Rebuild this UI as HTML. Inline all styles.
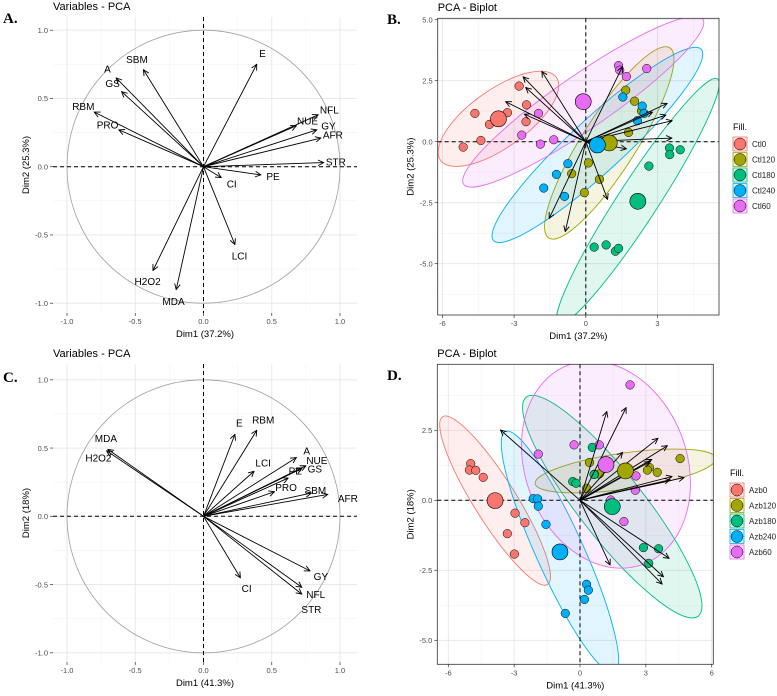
<!DOCTYPE html>
<html><head><meta charset="utf-8"><style>
body{margin:0;background:#fff;width:777px;height:691px;overflow:hidden;font-family:"Liberation Sans",sans-serif}
svg text{font-family:"Liberation Sans",sans-serif}
</style></head><body>
<svg id="s" width="777" height="691"></svg>
<script>
// ---------- Data ----------
const varsA = ["E","SBM","A","GS","RBM","PRO","NFL","NUE","GY","AFR","STR","PE","CI","LCI","H2O2","MDA"];
const dim1A = [0.39,-0.44,-0.64,-0.60,-0.80,-0.62,0.84,0.68,0.83,0.86,0.88,0.42,0.13,0.23,-0.37,-0.20];
const dim2A = [0.75,0.71,0.65,0.55,0.40,0.27,0.38,0.30,0.27,0.21,0.03,-0.06,-0.08,-0.57,-0.76,-0.90];
const varsC = ["MDA","H2O2","E","RBM","LCI","A","NUE","GS","PE","PRO","SBM","AFR","GY","NFL","STR","CI"];
const dim1C = [-0.70,-0.71,0.23,0.39,0.37,0.68,0.75,0.72,0.62,0.52,0.79,0.91,0.78,0.72,0.72,0.27];
const dim2C = [0.49,0.48,0.60,0.63,0.33,0.43,0.37,0.35,0.28,0.18,0.17,0.16,-0.40,-0.52,-0.57,-0.45];

const groupsB = ["Ctl0","Ctl120","Ctl180","Ctl240","Ctl60"];
const ptsBx = [
 [-5.13,-4.39,-4.64,-4.03,-3.28,-2.79,-2.48,-2.50],
 [1.67,2.04,2.33,1.79,0.11,-0.59,0.57,-0.06],
 [3.50,3.51,3.95,2.64,0.35,0.85,1.24,1.37],
 [1.55,2.36,2.44,2.16,-0.75,-1.23,-1.76,-0.89],
 [-2.68,-1.90,-1.34,-1.98,1.37,1.42,1.70,2.55]];
const ptsBy = [
 [-0.22,0.05,1.16,0.71,1.19,2.28,1.51,0.82],
 [2.11,1.66,1.26,0.38,-0.87,-1.31,-1.54,-2.09],
 [-0.26,-0.53,-0.33,-1.00,-4.32,-4.23,-4.49,-4.37],
 [1.83,1.46,1.16,0.86,-0.90,-1.34,-1.90,-2.24],
 [0.27,-0.10,0.08,1.16,3.12,2.93,2.67,3.00]];
const arrBx = [-2.62,-1.84,-2.51,-3.35,-2.57,1.53,3.40,3.35,3.61,3.60,1.70,0.91,-1.53,-0.86,2.79,0.55];
const arrBy = [2.66,2.88,2.22,1.64,1.13,3.07,1.57,1.09,0.86,0.15,-0.29,-2.36,-3.14,-3.68,1.21,-0.30];

const groupsD = ["Azb0","Azb120","Azb180","Azb240","Azb60"];
const ptsDx = [
 [-4.98,-5.04,-4.75,-4.41,-2.96,-2.51,-3.31,-2.99],
 [0.43,0.88,0.65,3.16,3.07,3.52,4.56,0.30],
 [0.56,-0.33,-0.18,0.64,2.89,3.58,3.13],
 [-2.13,-1.93,-1.90,-1.55,0.30,0.38,0.20,-0.67],
 [2.28,-0.27,0.88,-1.90,1.40,2.00,2.55,2.52]];
const ptsDy = [
 [1.31,1.08,1.07,0.82,-0.46,-0.80,-1.19,-1.92],
 [1.35,0.94,0.93,1.17,1.08,1.00,1.49,0.43],
 [1.89,0.67,0.61,0.92,-1.69,-1.73,-2.25],
 [0.06,0.05,-0.21,-0.86,-3.00,-3.21,-3.54,-4.04],
 [4.12,1.98,1.98,1.65,0.01,-0.76,0.87,0.36]];
const arrDx = [-3.62,1.22,2.10,3.55,3.98,1.94,3.27,4.19,4.74,4.06,3.80,3.74,1.37,3.19,4.10];
const arrDy = [2.51,3.17,3.31,2.21,1.95,1.71,1.46,0.85,0.81,-2.07,-2.73,-2.99,-2.31,1.38,0.73];

const colors = ["#F8766D","#A3A500","#00BF7D","#00B0F6","#E76BF3"];
// ---------- helpers ----------
const svg=document.getElementById('s');const NS="http://www.w3.org/2000/svg";
function el(t,a,p){const e=document.createElementNS(NS,t);for(const k in a)e.setAttribute(k,a[k]);(p||svg).appendChild(e);return e;}
function txt(x,y,s,a,p){const e=el('text',Object.assign({x:x,y:y},a),p);e.textContent=s;return e;}
const defs=el('defs',{});
const mk=el('marker',{id:'ah',viewBox:'0 0 10 10',refX:'9',refY:'5',markerWidth:'7',markerHeight:'7',orient:'auto-start-reverse',markerUnits:'userSpaceOnUse'},defs);
el('path',{d:'M1,1 L9,5 L1,9',fill:'none',stroke:'#000','stroke-width':'1.3'},mk);
let clipN=0;

function frame(o){
 const g=el('g',{});
 
 
 const X=v=>o.x0+v*o.sx, Y=v=>o.y0-v*o.sy;
 if(o.border) el('rect',{x:o.L,y:o.T,width:o.R-o.L,height:o.B-o.T,fill:'#fff'},g);
 for(const v of o.minorX){el('line',{x1:X(v),x2:X(v),y1:o.T,y2:o.B,stroke:'#f2f2f2','stroke-width':0.6},g);}
 for(const v of o.minorY){el('line',{y1:Y(v),y2:Y(v),x1:o.L,x2:o.R,stroke:'#f2f2f2','stroke-width':0.6},g);}
 for(const v of o.xt){el('line',{x1:X(v),x2:X(v),y1:o.T,y2:o.B,stroke:'#e6e6e6','stroke-width':0.9},g);}
 for(const v of o.yt){el('line',{y1:Y(v),y2:Y(v),x1:o.L,x2:o.R,stroke:'#e6e6e6','stroke-width':0.9},g);}
 const ax=el('g',{},g);
 o.xt.forEach((v,i)=>{el('line',{x1:X(v),x2:X(v),y1:o.B,y2:o.B+3,stroke:'#333','stroke-width':0.7},ax);
  txt(X(v),o.B+11,o.xl[i],{'font-size':7.5,fill:'#4d4d4d','text-anchor':'middle'},ax);});
 const ay=el('g',{},g);
 o.yt.forEach((v,i)=>{el('line',{y1:Y(v),y2:Y(v),x1:o.L-3,x2:o.L,stroke:'#333','stroke-width':0.7},ay);
  txt(o.L-5,Y(v)+2.7,o.yl[i],{'font-size':7.5,fill:'#4d4d4d','text-anchor':'end'},ay);});
 const xtl=txt((o.L+o.R)/2,o.B+24,o.xtitle,{'font-size':9.5,fill:'#000','text-anchor':'middle'},g);
 
 const ytl=txt(0,0,o.ytitle,{'font-size':9.5,fill:'#000','text-anchor':'middle',transform:`translate(${o.L-24},${(o.T+o.B)/2}) rotate(-90)`},g);
 
 const tt=txt(o.L,o.titleY,o.title,{'font-size':11,fill:'#000'},g);
 
 const lt=txt(o.letterX,o.letterY,o.letter,{style:'font-family:"Liberation Serif",serif;font-size:15px;font-weight:bold'},g);
 
 const id='clip'+(clipN++);const cp=el('clipPath',{id:id},defs);el('rect',{x:o.L,y:o.T,width:o.R-o.L,height:o.B-o.T},cp);
 const inner=el('g',{'clip-path':`url(#${id})`},g);
 return {g,inner,X,Y};
}
function finishBorder(f,o){ if(o.border) el('rect',{x:o.L,y:o.T,width:o.R-o.L,height:o.B-o.T,fill:'none',stroke:'#333','stroke-width':0.8},f.g); }
function refLines(f,o){
 el('line',{x1:o.L,x2:o.R,y1:f.Y(0),y2:f.Y(0),stroke:'#000','stroke-width':1,'stroke-dasharray':'4,3'},f.g);
 el('line',{y1:o.T,y2:o.B,x1:f.X(0),x2:f.X(0),stroke:'#000','stroke-width':1,'stroke-dasharray':'4,3'},f.g);
}
function varPanel(o,names,d1,d2){
 const f=frame(o);
 el('circle',{cx:f.X(0),cy:f.Y(0),r:o.sx,fill:'none',stroke:'#a0a0a0','stroke-width':0.8},f.g);
 refLines(f,o);
 names.forEach((n,i)=>{
  const a=el('line',{x1:f.X(0),y1:f.Y(0),x2:f.X(d1[i]),y2:f.Y(d2[i]),stroke:'#000','stroke-width':0.9,'marker-end':'url(#ah)'},f.g);
  
  const len=Math.hypot(d1[i],d2[i]);const k=(len+0.09)/len;
  const sh=(o.shift&&o.shift[n])||[0,0];
  const t=txt(f.X(d1[i]*k)+sh[0],f.Y(d2[i]*k)+3.5+sh[1],n,{'font-size':10,fill:'#000','text-anchor':'middle'},f.g);
  
 });
}
function ellipse(f,xs,ys,col,g){
 const n=xs.length;const mx=xs.reduce((a,b)=>a+b)/n,my=ys.reduce((a,b)=>a+b)/n;
 let sxx=0,syy=0,sxy=0;for(let i=0;i<n;i++){const dx=f.X(xs[i])-f.X(mx),dy=f.Y(ys[i])-f.Y(my);sxx+=dx*dx;syy+=dy*dy;sxy+=dx*dy;}
 sxx/=n-1;syy/=n-1;sxy/=n-1;
 const tr=sxx+syy,det=sxx*syy-sxy*sxy,l1=tr/2+Math.sqrt(tr*tr/4-det),l2=tr/2-Math.sqrt(tr*tr/4-det);
 const ang=Math.atan2(l1-sxx,sxy)*180/Math.PI;const k=2.45;
 el('ellipse',{cx:0,cy:0,rx:k*Math.sqrt(l1),ry:k*Math.sqrt(Math.max(l2,0.5)),fill:col,'fill-opacity':0.12,stroke:col,'stroke-width':0.9,
  transform:`translate(${f.X(mx)},${f.Y(my)}) rotate(${isNaN(ang)?0:ang})`},g);
 return [mx,my];
}
function biplot(o,groups,px,py,ax,ay,legY){
 const f=frame(o);
 const cents=[];
 groups.forEach((gname,gi)=>{const g=el('g',{},f.inner);
  cents.push(ellipse(f,px[gi],py[gi],colors[gi],g));});
 refLines(f,o);
 groups.forEach((gname,gi)=>{const g=el('g',{},f.g);
  px[gi].forEach((x,i)=>{const c=el('circle',{cx:f.X(x),cy:f.Y(py[gi][i]),r:4.3,fill:colors[gi],stroke:'#000','stroke-width':0.5},g);
   });});
 ax.forEach((x,i)=>{const a=el('line',{x1:f.X(0),y1:f.Y(0),x2:f.X(x),y2:f.Y(ay[i]),stroke:'#000','stroke-width':0.9,'marker-end':'url(#ah)'},f.g);
  });
 groups.forEach((gname,gi)=>{const c=el('circle',{cx:f.X(cents[gi][0]),cy:f.Y(cents[gi][1]),r:8,fill:colors[gi],stroke:'#000','stroke-width':0.6},f.g);
  });
 finishBorder(f,o);
 const lg=el('g',{});
 txt(o.legX,legY,'Fill.',{'font-size':9,fill:'#000'},lg);
 groups.forEach((gname,gi)=>{const y=legY+7+gi*15.5;const e=el('g',{},lg);
  el('rect',{x:o.legX,y:y,width:14,height:14,fill:colors[gi],'fill-opacity':0.15,stroke:colors[gi],'stroke-width':0.8},e);
  el('circle',{cx:o.legX+7,cy:y+7,r:6,fill:colors[gi],stroke:'#000','stroke-width':0.5},e);
  txt(o.legX+19,y+10,gname,{'font-size':8,fill:'#222'},e);});
}
const tA=[-1,-0.5,0,0.5,1],tAl=["-1.0","-0.5","0.0","0.5","1.0"],mA=[-0.75,-0.25,0.25,0.75];
varPanel({name:'panel-a-variables-pca',L:53,R:357,T:17,B:313,x0:203.5,y0:166.7,sx:136.5,sy:136.5,xt:tA,yt:tA,xl:tAl,yl:tAl,minorX:mA,minorY:mA,
 xtitle:'Dim1 (37.2%)',ytitle:'Dim2 (25.3%)',title:'Variables - PCA',titleY:10,letter:'A.',letterX:3,letterY:23},varsA,dim1A,dim2A);
varPanel({name:'panel-c-variables-pca',L:53,R:357,T:364,B:662,x0:203.5,y0:516.3,sx:136.5,sy:136.5,xt:tA,yt:tA,xl:tAl,yl:tAl,minorX:mA,minorY:mA,
 xtitle:'Dim1 (41.3%)',ytitle:'Dim2 (18%)',title:'Variables - PCA',titleY:357,letter:'C.',letterX:3,letterY:382,
 shift:{MDA:[8,-4],H2O2:[2,14],PE:[-4,-2],GS:[2,6],SBM:[-8,0],AFR:[8,6],NFL:[4,0],STR:[0,8]}},varsC,dim1C,dim2C);
biplot({name:'panel-b-biplot',border:1,L:437.7,R:719,T:18.3,B:315,x0:585.8,y0:141.7,sx:23.9,sy:24.4,xt:[-6,-3,0,3],xl:["-6","-3","0","3"],yt:[5,2.5,0,-2.5,-5],yl:["5.0","2.5","0.0","-2.5","-5.0"],
 minorX:[-4.5,-1.5,1.5,4.5],minorY:[3.75,1.25,-1.25,-3.75,-6.25],xtitle:'Dim1 (37.2%)',ytitle:'Dim2 (25.3%)',title:'PCA - Biplot',titleY:11,letter:'B.',letterX:387,letterY:24,legX:733},
 groupsB,ptsBx,ptsBy,arrBx,arrBy,130);
biplot({name:'panel-d-biplot',border:1,L:437.3,R:713.3,T:364.3,B:664.3,x0:580,y0:500.3,sx:21.95,sy:28,xt:[-6,-3,0,3,6],xl:["-6","-3","0","3","6"],yt:[2.5,0,-2.5,-5],yl:["2.5","0.0","-2.5","-5.0"],
 minorX:[-4.5,-1.5,1.5,4.5],minorY:[3.75,1.25,-1.25,-3.75],xtitle:'Dim1 (41.3%)',ytitle:'Dim2 (18%)',title:'PCA - Biplot',titleY:357,letter:'D.',letterX:387,letterY:380,legX:730},
 groupsD,ptsDx,ptsDy,arrDx,arrDy,476);
</script>
</body></html>
